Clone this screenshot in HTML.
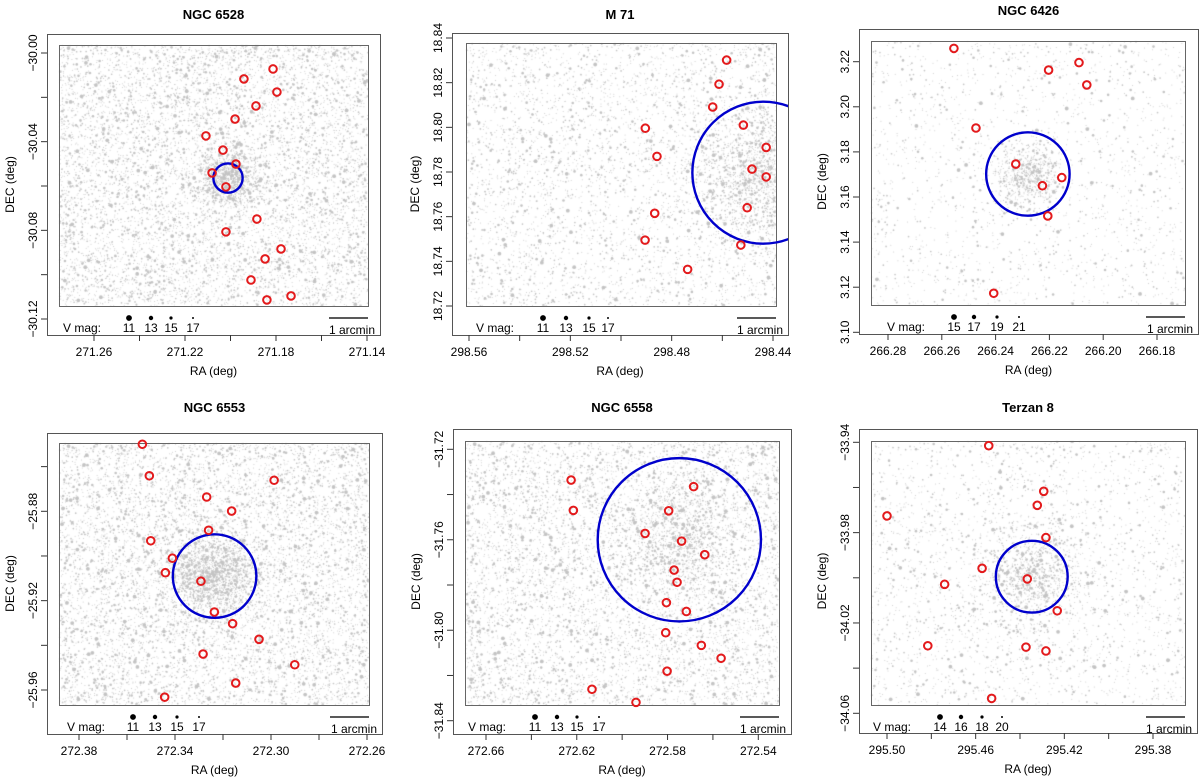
<!DOCTYPE html>
<html><head><meta charset="utf-8"><style>
html,body{margin:0;padding:0;background:#fff;width:1200px;height:780px;overflow:hidden}
#cv{position:absolute;left:0;top:0}
#sv{position:absolute;left:0;top:0}
text{font-family:"Liberation Sans",sans-serif;fill:#000}
</style></head><body>
<canvas id="cv" width="1200" height="780"></canvas>
<svg id="sv" width="1200" height="780" xmlns="http://www.w3.org/2000/svg"></svg>
<script>
// ---- data: red variable stars (RA, DEC) and cluster circles per panel ----
const titles=["NGC 6528","M 71","NGC 6426","NGC 6553","NGC 6558","Terzan 8"];
const p1RA=[271.1813,271.1941,271.1796,271.1888,271.1980,271.2108,271.2033,271.1976,271.2081,271.2020,271.1884,271.2020,271.1778,271.1848,271.1910,271.1734,271.1840];
const p1DEC=[-30.0072,-30.0117,-30.0176,-30.0239,-30.0298,-30.0374,-30.0438,-30.0501,-30.0541,-30.0604,-30.0749,-30.0807,-30.0884,-30.0929,-30.1024,-30.1096,-30.1114];
const p2RA=[298.4583,298.4613,298.4638,298.4904,298.4517,298.4427,298.4858,298.4483,298.4427,298.4502,298.4867,298.4905,298.4527,298.4737];
const p2DEC=[18.8301,18.8193,18.8091,18.7996,18.8010,18.7910,18.7870,18.7813,18.7778,18.7640,18.7615,18.7495,18.7473,18.7364];
const p3RA=[266.2555,266.2203,266.2090,266.2061,266.2473,266.2325,266.2154,266.2226,266.2206,266.2407];
const p3DEC=[3.2259,3.2163,3.2196,3.2097,3.1906,3.1746,3.1686,3.1650,3.1516,3.1173];
const p4RA=[272.3536,272.3507,272.2987,272.3268,272.3164,272.3260,272.3501,272.3411,272.3440,272.3292,272.3236,272.3160,272.3050,272.3283,272.2901,272.3147,272.3443];
const p4DEC=[-25.8500,-25.8641,-25.8661,-25.8736,-25.8799,-25.8885,-25.8932,-25.9010,-25.9075,-25.9113,-25.9251,-25.9303,-25.9373,-25.9439,-25.9487,-25.9569,-25.9632];
const p5RA=[272.6225,272.5685,272.6215,272.5795,272.5899,272.5738,272.5636,272.5771,272.5758,272.5805,272.5717,272.5808,272.5651,272.5564,272.5802,272.6133,272.5939];
const p5DEC=[-31.7336,-31.7365,-31.7470,-31.7472,-31.7572,-31.7606,-31.7666,-31.7734,-31.7788,-31.7878,-31.7917,-31.8011,-31.8067,-31.8124,-31.8181,-31.8261,-31.8319];
const p6RA=[295.4541,295.4293,295.4322,295.5000,295.4283,295.4571,295.4367,295.4740,295.4232,295.4816,295.4373,295.4283,295.4528];
const p6DEC=[-33.9415,-33.9617,-33.9679,-33.9726,-33.9822,-33.9958,-34.0005,-34.0029,-34.0146,-34.0301,-34.0307,-34.0324,-34.0534];
const clusterRA=[271.2011,298.4438,266.2280,272.3235,272.5748,295.4347];
const clusterDEC=[-30.0564,18.7797,3.1702,-25.9090,-31.7600,-33.9995];
const clusterR=[0.0066,0.0318,0.0185,0.0187,0.0361,0.0159];
const xTickVals=[[271.26,271.24,271.22,271.20,271.18,271.16,271.14],[298.56,298.54,298.52,298.50,298.48,298.46,298.44],[266.28,266.26,266.24,266.22,266.20,266.18],[272.38,272.36,272.34,272.32,272.30,272.28,272.26],[272.66,272.64,272.62,272.60,272.58,272.56,272.54],[295.50,295.48,295.46,295.44,295.42,295.40,295.38]];
const xTickLabels=[["271.26","","271.22","","271.18","","271.14"],["298.56","","298.52","","298.48","","298.44"],["266.28","266.26","266.24","266.22","266.20","266.18"],["272.38","","272.34","","272.30","","272.26"],["272.66","","272.62","","272.58","","272.54"],["295.50","","295.46","","295.42","","295.38"]];
const yTickVals=[[-30.00,-30.02,-30.04,-30.06,-30.08,-30.10,-30.12],[18.84,18.82,18.80,18.78,18.76,18.74,18.72],[3.22,3.20,3.18,3.16,3.14,3.12,3.10],[-25.86,-25.88,-25.90,-25.92,-25.94,-25.96],[-31.72,-31.74,-31.76,-31.78,-31.80,-31.82,-31.84],[-33.94,-33.96,-33.98,-34.00,-34.02,-34.04,-34.06]];
const yTickLabels=[["\u221230.00","","\u221230.04","","\u221230.08","","\u221230.12"],["18.84","18.82","18.80","18.78","18.76","18.74","18.72"],["3.22","3.20","3.18","3.16","3.14","3.12","3.10"],["","\u221225.88","","\u221225.92","","\u221225.96"],["\u221231.72","","\u221231.76","","\u221231.80","","\u221231.84"],["\u221233.94","","\u221233.98","","\u221234.02","","\u221234.06"]];
const magLabels=[["11","13","15","17"],["11","13","15","17"],["15","17","19","21"],["11","13","15","17"],["11","13","15","17"],["14","16","18","20"]];
const raList=[p1RA,p2RA,p3RA,p4RA,p5RA,p6RA];
const decList=[p1DEC,p2DEC,p3DEC,p4DEC,p5DEC,p6DEC];

// ---- layout (pixels) ----
const L=[
 {o:[47,34,380,335],i:[59,45,368,306],xa:[271.26,94,271.14,367],ya:[-30.00,53,-30.12,319],mag:[129,151,171,193],vm:63,n:7500,cn:900,cs:30,ty:14},
 {o:[452,33,788,335],i:[466,43,776,306],xa:[298.56,469,298.44,773],ya:[18.84,38,18.72,306],mag:[543,566,589,608],vm:476,n:4000,cn:1600,cs:70,ty:14},
 {o:[859,29,1198,334],i:[871,41,1185,305],xa:[266.28,888,266.18,1157],ya:[3.22,61.7,3.10,332.3],mag:[954,974,997,1019],vm:887,n:1800,cn:600,cs:35,ty:10},
 {o:[47,433,382,734],i:[59,443,369,705],xa:[272.38,79,272.26,367],ya:[-25.88,511.3,-25.96,690],mag:[133,155,177,199],vm:67,n:7500,cn:1500,cs:45,ty:407},
 {o:[453,429,791,734],i:[465,441,779,705],xa:[272.66,486,272.54,758.3],ya:[-31.72,449.3,-31.84,720.7],mag:[535,557,577,599],vm:468,n:6500,cn:1000,cs:60,ty:407},
 {o:[859,429,1197,733],i:[871,441,1185,705],xa:[295.50,887,295.38,1153],ya:[-33.94,442.3,-34.06,713.3],mag:[940,961,982,1002],vm:873,n:2500,cn:1000,cs:55,ty:407}
];

const NS="http://www.w3.org/2000/svg";
const svg=document.getElementById('sv');
function mk(tag,attrs,parent){const e=document.createElementNS(NS,tag);for(const k in attrs)e.setAttribute(k,attrs[k]);(parent||svg).appendChild(e);return e;}
let seed=12345;function rnd(){seed=(seed*1103515245+12345)&0x7fffffff;return seed/0x7fffffff;}
const ctx=document.getElementById('cv').getContext('2d');

L.forEach((p,k)=>{
 const sx=v=>p.xa[1]+(v-p.xa[0])*(p.xa[3]-p.xa[1])/(p.xa[2]-p.xa[0]);
 const sy=v=>p.ya[1]+(v-p.ya[0])*(p.ya[3]-p.ya[1])/(p.ya[2]-p.ya[0]);
 const pyScale=Math.abs((p.ya[3]-p.ya[1])/(p.ya[2]-p.ya[0]));
 const [ix0,iy0,ix1,iy1]=p.i;const [ox0,oy0,ox1,oy1]=p.o;
 ctx.save();ctx.beginPath();ctx.rect(ix0,iy0,ix1-ix0,iy1-iy0);ctx.clip();
 ctx.fillStyle='#c4c4c4';
 const ccx=sx(clusterRA[k]),ccy=sy(clusterDEC[k]);
 for(let j=0;j<p.n+p.cn;j++){
  let x,y;
  if(j<p.n){x=ix0+rnd()*(ix1-ix0);y=iy0+rnd()*(iy1-iy0);}
  else{const a=rnd()*6.283,r=p.cs*Math.sqrt(-Math.log(1-rnd()*0.98))*0.7;x=ccx+r*Math.cos(a);y=ccy+r*Math.sin(a);}
  const u=rnd();const r=u<0.72?0.5:u<0.93?0.85:u<0.988?1.3:1.9;
  ctx.beginPath();ctx.arc(x,y,r,0,6.283);ctx.fill();
 }
 ctx.restore();
 const g=mk('g',{});
 
 
 const t=mk('text',{x:(ox0+ox1)/2,y:p.ty+5,'text-anchor':'middle','font-size':'13','font-weight':'bold'},g);t.textContent=titles[k];
 
 
 const ob=mk('rect',{x:ox0+.5,y:oy0+.5,width:ox1-ox0,height:oy1-oy0,fill:'none',stroke:'#555','stroke-width':1},g);
 
 
 const ib=mk('rect',{x:ix0+.5,y:iy0+.5,width:ix1-ix0,height:iy1-iy0,fill:'none',stroke:'#666','stroke-width':1},g);
 
 
 xTickVals[k].forEach((v,j)=>{const x=sx(v);
  const ln=mk('line',{x1:x,y1:oy1,x2:x,y2:oy1+6,stroke:'#333'},g);
  
  
  if(xTickLabels[k][j]){const tt=mk('text',{x:x,y:oy1+21,'text-anchor':'middle','font-size':'12'},g);tt.textContent=xTickLabels[k][j];
   
   }
 });
 const xt=mk('text',{x:(ox0+ox1)/2,y:oy1+40,'text-anchor':'middle','font-size':'12'},g);xt.textContent='RA (deg)';
 
 
 yTickVals[k].forEach((v,j)=>{const y=sy(v);
  const ln=mk('line',{x1:ox0-6,y1:y,x2:ox0,y2:y,stroke:'#333'},g);
  
  
  if(yTickLabels[k][j]){const tt=mk('text',{x:0,y:0,'text-anchor':'middle','font-size':'12',transform:`translate(${ox0-10},${y}) rotate(-90)`},g);tt.textContent=yTickLabels[k][j];
   
   }
 });
 const yt=mk('text',{x:0,y:0,'text-anchor':'middle','font-size':'12',transform:`translate(${ox0-33},${(oy0+oy1)/2}) rotate(-90)`},g);yt.textContent='DEC (deg)';
 
 
 const vm=mk('text',{x:p.vm,y:iy1+26,'font-size':'12'},g);vm.textContent='V mag:';
 
 
 p.mag.forEach((mx,j)=>{
  const d=mk('circle',{cx:mx,cy:iy1+12,r:[2.9,2.2,1.6,1][j],fill:'#000'},g);
  
  
  const tt=mk('text',{x:mx,y:iy1+26,'text-anchor':'middle','font-size':'12'},g);tt.textContent=magLabels[k][j];
  
  
 });
 const sb=mk('line',{x1:ix1-39,y1:iy1+12,x2:ix1,y2:iy1+12,stroke:'#222','stroke-width':1.6},g);
 
 
 const st=mk('text',{x:ox1-5,y:iy1+28,'text-anchor':'end','font-size':'12'},g);st.textContent='1 arcmin';
 
 
 const cid='clip'+k;const cp=mk('clipPath',{id:cid},g);mk('rect',{x:ox0,y:oy0,width:ox1-ox0,height:oy1-oy0},cp);
 const mg=mk('g',{'clip-path':`url(#${cid})`},g);
 const bc=mk('circle',{cx:ccx,cy:ccy,r:clusterR[k]*pyScale,fill:'none',stroke:'#0000cc','stroke-width':2.4},mg);
 
 
 raList[k].forEach((ra,j)=>{
  const c=mk('circle',{cx:sx(ra),cy:sy(decList[k][j]),r:3.8,fill:'none',stroke:'#e31a1c','stroke-width':2},mg);
  
  
 });
});
</script>
</body></html>
